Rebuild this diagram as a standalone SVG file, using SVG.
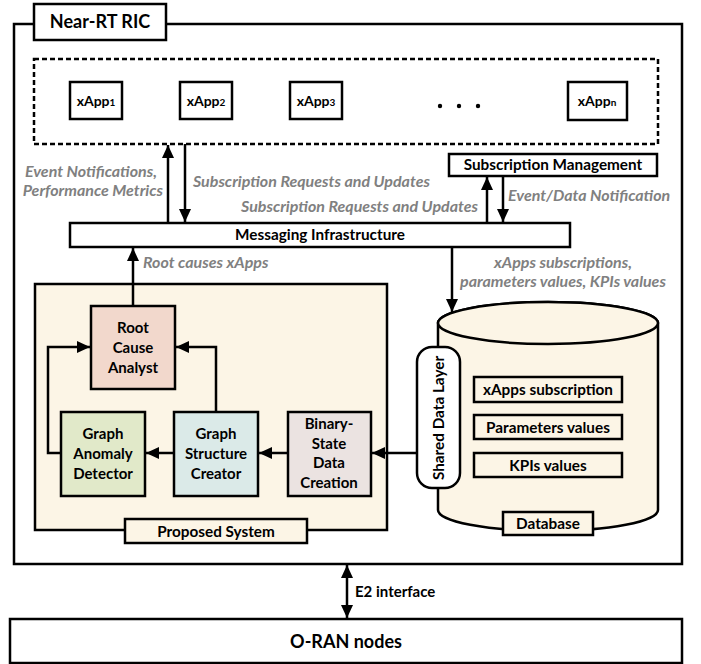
<svg xmlns="http://www.w3.org/2000/svg" width="701" height="664" viewBox="0 0 701 664">
<defs>
<marker id="ah" markerUnits="userSpaceOnUse" markerWidth="14" markerHeight="14" viewBox="0 0 14 14" refX="13" refY="7" orient="auto-start-reverse">
<path d="M0,1 L13,7 L0,13 Z" fill="#000"/>
</marker>
<style>
.box{fill:#fff;stroke:#000;stroke-width:2.5}
.t{font-family:Lato,"Liberation Sans",sans-serif;font-weight:bold;fill:#000;text-anchor:middle}
.s{font-size:15.3px}
.g{font-family:Lato,"Liberation Sans",sans-serif;font-weight:bold;font-style:italic;fill:#808080;font-size:16px}
.ln{fill:none;stroke:#000;stroke-width:2.5}
.cream{fill:#FCF5E6;stroke:#000;stroke-width:2.5}
</style>
</defs>
<rect width="701" height="664" fill="#fff"/>
<g id="near-rt-ric">
<rect class="box" x="14" y="24" width="668" height="540"/>
<rect class="box" x="34" y="4" width="132" height="36"/>
<text class="t" x="100" y="28" font-size="18">Near-RT RIC</text>
</g>
<g id="xapps">
<rect x="34" y="59" width="624" height="85" fill="none" stroke="#000" stroke-width="2.5" stroke-dasharray="5,3"/>
</g>
<g id="xapp1"><rect class="box" x="70" y="82" width="52" height="37"/><text class="t" x="96" y="106" font-size="14">xApp<tspan font-size="10">1</tspan></text></g>
<g id="xapp2"><rect class="box" x="180" y="82" width="52" height="37"/><text class="t" x="206" y="106" font-size="14">xApp<tspan font-size="10">2</tspan></text></g>
<g id="xapp3"><rect class="box" x="290" y="82" width="52" height="37"/><text class="t" x="316" y="106" font-size="14">xApp<tspan font-size="10">3</tspan></text></g>
<g id="dots"><circle cx="440" cy="106" r="2.2"/><circle cx="459" cy="106" r="2.2"/><circle cx="478" cy="106" r="2.2"/></g>
<g id="xappn"><rect class="box" x="568" y="82" width="59" height="38"/><text class="t" x="597" y="106" font-size="14">xApp<tspan font-size="10">n</tspan></text></g>
<g id="subscription-management"><rect class="box" x="449" y="154" width="208" height="22"/><text class="t s" x="553" y="170">Subscription Management</text></g>
<g id="messaging-infrastructure"><rect class="box" x="70" y="223" width="500" height="24"/><text class="t s" x="320" y="240">Messaging Infrastructure</text></g>
<g id="proposed-system">
<rect class="cream" x="35" y="284" width="352" height="246"/>
<rect class="cream" x="125" y="519" width="182" height="24"/>
<text class="t s" x="216" y="537">Proposed System</text>
</g>
<g id="root-cause-analyst"><rect x="91" y="306" width="84" height="83" fill="#F2D8CC" stroke="#000" stroke-width="2.5"/>
<text class="t" font-size="15"><tspan x="133" y="333">Root</tspan><tspan x="133" y="353">Cause</tspan><tspan x="133" y="373">Analyst</tspan></text></g>
<g id="graph-anomaly-detector"><rect x="61" y="412" width="84" height="84" fill="#E1E9C9" stroke="#000" stroke-width="2.5"/>
<text class="t" font-size="15"><tspan x="103" y="439">Graph</tspan><tspan x="103" y="459">Anomaly</tspan><tspan x="103" y="479">Detector</tspan></text></g>
<g id="graph-structure-creator"><rect x="174" y="412" width="84" height="84" fill="#DBEAE8" stroke="#000" stroke-width="2.5"/>
<text class="t" font-size="15"><tspan x="216" y="439">Graph</tspan><tspan x="216" y="459">Structure</tspan><tspan x="216" y="479">Creator</tspan></text></g>
<g id="binary-state-data-creation"><rect x="288" y="412" width="83" height="84" fill="#EBE3E1" stroke="#000" stroke-width="2.5"/>
<text class="t" font-size="15"><tspan x="329" y="429">Binary-</tspan><tspan x="329" y="449">State</tspan><tspan x="329" y="468">Data</tspan><tspan x="329" y="488">Creation</tspan></text></g>
<g id="database">
<path class="cream" d="M438,323 L438,510 A110,21 0 0 0 658,510 L658,323 A110,21 0 0 0 438,323 Z"/>
<ellipse class="cream" cx="548" cy="323" rx="110" ry="21"/>
<rect class="cream" x="474" y="377" width="148" height="25"/>
<text class="t s" x="548" y="395">xApps subscription</text>
<rect class="cream" x="474" y="415" width="148" height="24"/>
<text class="t s" x="548" y="433">Parameters values</text>
<rect class="cream" x="474" y="453" width="148" height="24"/>
<text class="t s" x="548" y="471">KPIs values</text>
<rect class="cream" x="503" y="512" width="90" height="23"/>
<text class="t s" x="548" y="529">Database</text>
</g>
<g id="shared-data-layer"><rect class="box" x="417" y="347" width="43" height="141" rx="15" ry="15"/>
<text class="t s" transform="translate(444,418) rotate(-90)">Shared Data Layer</text></g>
<g id="oran-nodes"><rect class="box" x="10" y="619" width="672" height="44"/><text class="t" x="346" y="648" font-size="18">O-RAN nodes</text></g>
<g id="connectors">
<line class="ln" x1="168" y1="223" x2="168" y2="145" marker-end="url(#ah)"/>
<line class="ln" x1="185" y1="144" x2="185" y2="222" marker-end="url(#ah)"/>
<line class="ln" x1="487" y1="223" x2="487" y2="177" marker-end="url(#ah)"/>
<line class="ln" x1="503" y1="176" x2="503" y2="222" marker-end="url(#ah)"/>
<line class="ln" x1="133" y1="306" x2="133" y2="248" marker-end="url(#ah)"/>
<line class="ln" x1="452" y1="247" x2="452" y2="312" marker-end="url(#ah)"/>
<line class="ln" x1="417" y1="453" x2="372" y2="453" marker-end="url(#ah)"/>
<line class="ln" x1="288" y1="453" x2="259" y2="453" marker-end="url(#ah)"/>
<line class="ln" x1="174" y1="453" x2="146" y2="453" marker-end="url(#ah)"/>
<polyline class="ln" points="216,412 216,347 176,347" marker-end="url(#ah)"/>
<polyline class="ln" points="61,453 48,453 48,347 90,347" marker-end="url(#ah)"/>
<line class="ln" x1="347" y1="565" x2="347" y2="618" marker-start="url(#ah)" marker-end="url(#ah)"/>
</g>
<g id="labels">
<text class="g" x="157" y="177" text-anchor="end">Event Notifications,</text>
<text class="g" x="163" y="196" text-anchor="end">Performance Metrics</text>
<text class="g" x="193" y="187">Subscription Requests and Updates</text>
<text class="g" x="478" y="212" text-anchor="end">Subscription Requests and Updates</text>
<text class="g" x="508" y="201">Event/Data Notification</text>
<text class="g" x="143" y="268">Root causes xApps</text>
<text class="g" x="563" y="268" text-anchor="middle">xApps subscriptions,</text>
<text class="g" x="563" y="287" text-anchor="middle">parameters values, KPIs values</text>
<text class="t" x="355" y="597" style="font-size:15px;text-anchor:start">E2 interface</text>
</g>
</svg>
